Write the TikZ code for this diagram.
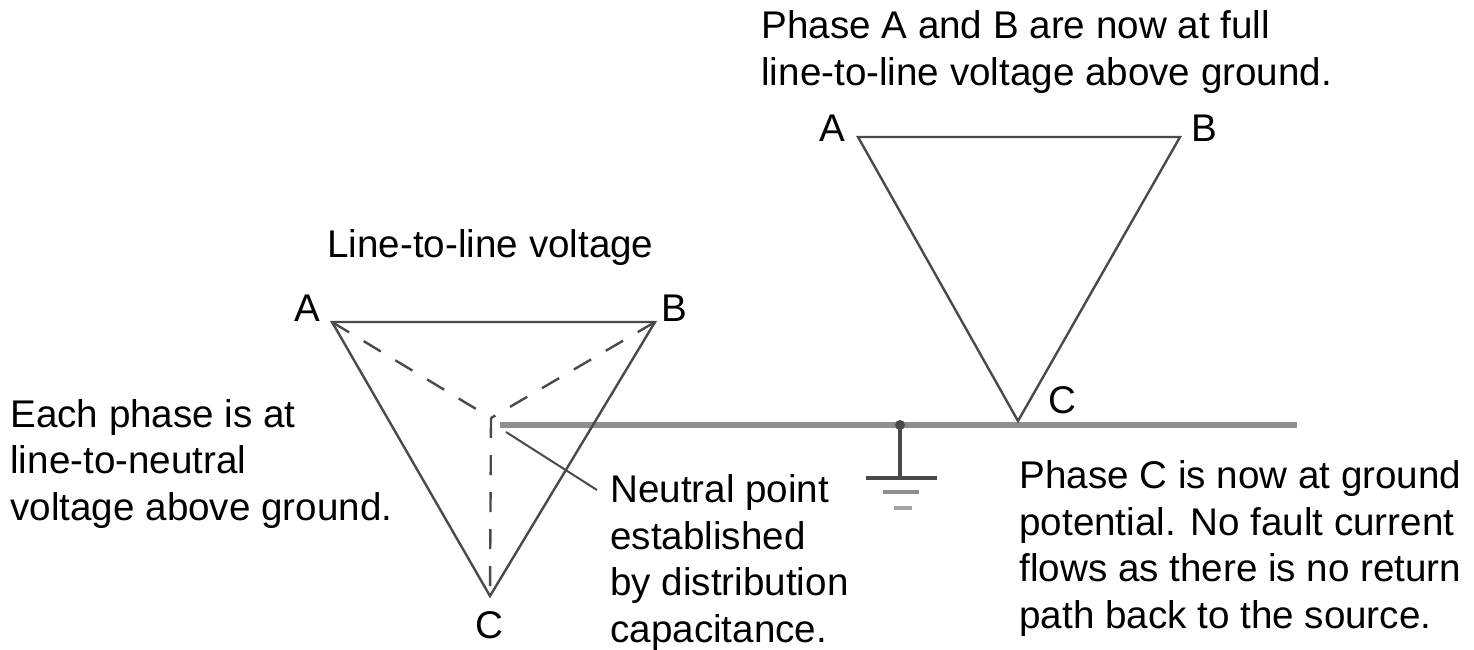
\documentclass[tikz,border=0pt]{standalone}
\usepackage{fontspec}
\setmainfont{Liberation Sans}
\usepackage{xcolor}
\usetikzlibrary{positioning}
\tikzset{>=stealth}
\definecolor{wire}{HTML}{4A4A4A}
\definecolor{earth}{HTML}{8E8E8E}
\tikzset{
  lbl/.style={inner sep=0pt,anchor=base west,font=\fontsize{19.3}{23.2}\selectfont},
  txt/.style={lbl,align=left},
  side/.style={draw=wire,line width=1.2pt},
  hidden/.style={side,dash pattern=on 10pt off 8.5pt},
  earthline/.style={draw=earth,line width=3pt}
}

\begin{document}
\begin{tikzpicture}[x=0.5pt,y=-0.5pt]
  \useasboundingbox (0,0) rectangle (1474,649);
  % left triangle with its neutral point
  \coordinate (A1) at (332,322);
  \coordinate (B1) at (655,322);
  \coordinate (C1) at (490,596);
  \coordinate (N) at (491,418);
  % right triangle, phase C grounded
  \coordinate (A2) at (858,137);
  \coordinate (B2) at (1180,137);
  \coordinate (C2) at (1018,421);
  % ground bus
  \coordinate (G0) at (500,425);
  \coordinate (G1) at (1297,425);
  \coordinate (GD) at (900,425);
  \coordinate (GS) at (900,478);
  \coordinate (L0) at (506,432);
  \coordinate (L1) at (597,490);

  \draw[earthline] (G0) -- (G1);
  \draw[side] (A1) -- (B1) -- (C1) -- cycle;
  \draw[hidden] (A1) -- (N) (B1) -- (N) (N) -- (C1);
  \draw[side] (A2) -- (B2) -- (C2) -- cycle;
  \draw[side,line width=1pt] (L0) -- (L1);

  % earth symbol
  \fill[wire] (GD) circle[radius=5];
  \draw[wire,line width=2pt] (GD) -- (GS);
  \draw[wire,line width=2pt] (GS) ++(-34,0) -- ++(71,0);
  \draw[earth,line width=2.2pt] (GS) ++(-17,14) -- ++(36,0);
  \draw[earth!80,line width=2pt] (GS) ++(-6,30) -- ++(18,0);

  % corner labels
  \node[lbl] (labA1) at (294,321) {A};
  \node[lbl] (labB1) at (661,321) {B};
  \node[lbl] (labC1) at (475,638) {C};
  \node[lbl] (labA2) at (819,141) {A};
  \node[lbl] (labB2) at (1191,141) {B};
  \node[lbl] (labC2) at (1048,413) {C};

  % notes (base = last line)
  \node[lbl] (ll) at (327,257) {Line-to-line voltage};
  \node[txt] (full) at (761,85) {Phase A and B are now at full\\line-to-line voltage above ground.};
  \node[txt] (each) at (10,520) {Each phase is at\\line-to-neutral\\voltage above ground.};
  \node[txt] (neut) at (610,642) {Neutral point\\established\\by distribution\\capacitance.};
  \node[txt] (phc) at (1019,628) {Phase C is now at ground\\potential. No fault current\\flows as there is no return\\path back to the source.};
\end{tikzpicture}
\end{document}
